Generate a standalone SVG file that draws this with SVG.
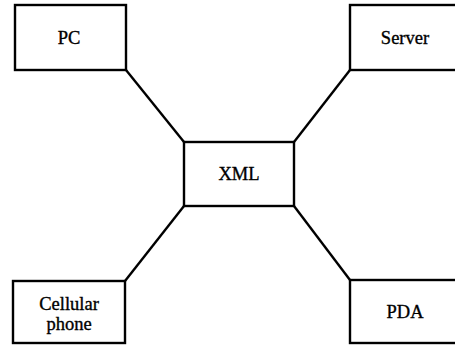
<svg xmlns="http://www.w3.org/2000/svg" width="455" height="347" viewBox="0 0 455 347">
  <style>
    .box { fill: #ffffff; stroke: #000000; stroke-width: 2.4; }
    .link { stroke: #000000; stroke-width: 2.4; fill: none; }
    .label { font-family: "Liberation Serif", "Times New Roman", serif; font-size: 18.5px; fill: #000000; text-anchor: middle; stroke: #000000; stroke-width: 0.35; }
  </style>
  <rect x="0" y="0" width="455" height="347" fill="#ffffff"/>
  <g id="connectors">
    <line class="link" x1="126" y1="70" x2="184" y2="142"/>
    <line class="link" x1="350" y1="70" x2="294" y2="142"/>
    <line class="link" x1="184" y1="206" x2="125" y2="281"/>
    <line class="link" x1="294" y1="206" x2="350" y2="280"/>
  </g>
  <g id="pc">
    <rect class="box" x="15" y="5" width="111" height="65"/>
    <text class="label" x="69" y="44">PC</text>
  </g>
  <g id="server">
    <rect class="box" x="350" y="5" width="112" height="65"/>
    <text class="label" x="405" y="44">Server</text>
  </g>
  <g id="xml">
    <rect class="box" x="184" y="142" width="110" height="64"/>
    <text class="label" x="239" y="180">XML</text>
  </g>
  <g id="cellular-phone">
    <rect class="box" x="13" y="281" width="112" height="62"/>
    <text class="label" x="69" y="310">Cellular</text>
    <text class="label" x="69" y="330">phone</text>
  </g>
  <g id="pda">
    <rect class="box" x="350" y="280" width="112" height="63"/>
    <text class="label" x="405" y="318">PDA</text>
  </g>
</svg>
